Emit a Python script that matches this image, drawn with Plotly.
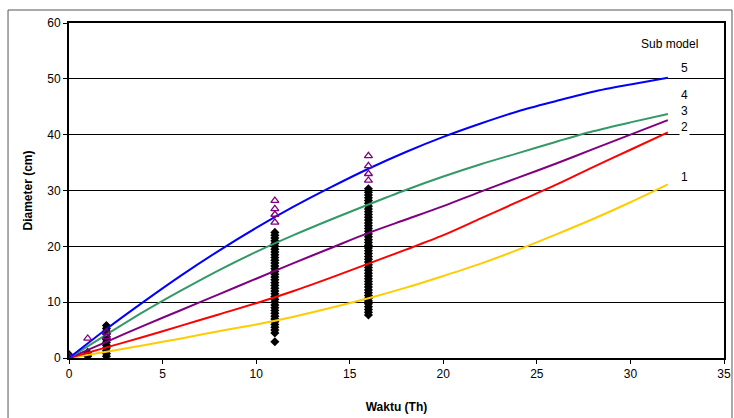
import plotly.graph_objects as go

# ---- data ----
x_curve = [0, 2, 4, 6, 8, 10, 12, 14, 16, 18, 20, 22, 24, 26, 28, 30, 32]
sub1 = [0, 1.1, 2.3, 3.5, 4.8, 6.0, 7.4, 9.0, 10.7, 12.6, 14.7, 16.9, 19.4, 22.1, 24.9, 27.9, 31.1]
sub2 = [0, 1.9, 3.8, 5.8, 7.8, 9.8, 12.0, 14.4, 16.9, 19.4, 22.0, 25.0, 28.0, 31.0, 34.2, 37.3, 40.4]
sub3 = [0, 2.9, 5.8, 8.6, 11.4, 14.2, 17.0, 19.7, 22.4, 24.8, 27.2, 29.8, 32.3, 34.8, 37.4, 40.0, 42.6]
sub4 = [0, 4.2, 8.3, 12.1, 15.7, 19.0, 22.0, 24.8, 27.5, 30.1, 32.5, 34.7, 36.7, 38.7, 40.6, 42.2, 43.7]
sub5 = [0, 5.2, 10.1, 14.8, 19.2, 23.3, 27.1, 30.6, 33.9, 36.9, 39.6, 42.0, 44.2, 46.0, 47.7, 49.0, 50.2]

obs_age_0 = [0, 0]
obs_d_0 = [0.2, 0.6]
obs_age_1 = [1, 1, 1]
obs_d_1 = [0.3, 0.6, 1.0]
obs_age_2 = [2] * 12
obs_d_2 = [0.3, 0.8, 1.3, 1.8, 2.3, 2.8, 3.3, 3.8, 4.3, 4.8, 5.3, 5.8]
obs_d_11 = [2.9, 4.5, 5.0, 5.5, 6.0, 6.5, 7.0, 7.5, 8.0, 8.5, 9.0, 9.5, 10.0, 10.5, 11.0,
            11.5, 12.0, 12.5, 13.0, 13.5, 14.0, 14.5, 15.0, 15.5, 16.0, 16.5, 17.0, 17.5,
            18.0, 18.5, 19.0, 19.5, 20.0, 20.5, 21.0, 21.5, 22.0, 22.5]
obs_age_11 = [11] * len(obs_d_11)
obs_d_16 = [7.7, 8.2, 8.7, 9.2, 9.7, 10.2, 10.7, 11.2, 11.7, 12.2, 12.7, 13.2, 13.7, 14.2,
            14.7, 15.2, 15.7, 16.2, 16.7, 17.2, 17.7, 18.2, 18.7, 19.2, 19.7, 20.2, 20.7,
            21.2, 21.7, 22.2, 22.7, 23.2, 23.7, 24.2, 24.7, 25.2, 25.7, 26.2, 26.7, 27.2,
            27.7, 28.2, 28.7, 29.2, 29.7, 30.3]
obs_age_16 = [16] * len(obs_d_16)

tri_age = [0, 1, 2, 2, 11, 11, 11, 11, 16, 16, 16, 16]
tri_d = [0.3, 3.5, 3.8, 4.6, 24.3, 25.7, 26.7, 28.2, 31.8, 33.0, 34.4, 36.2]

x_ticks = [0, 5, 10, 15, 20, 25, 30, 35]
y_ticks = [0, 10, 20, 30, 40, 50, 60]
label_names = ["1", "2", "3", "4", "5"]
label_y = [32.4, 41.3, 44.3, 47.1, 51.9]

series = [sub1, sub2, sub3, sub4, sub5]
colors = ["#FFCC00", "#FF0000", "#800080", "#339966", "#0000FF"]

FONT = "Liberation Sans, Arial"

fig = go.Figure()

diam_x = obs_age_0 + obs_age_1 + obs_age_2 + obs_age_11 + obs_age_16
diam_y = obs_d_0 + obs_d_1 + obs_d_2 + obs_d_11 + obs_d_16
fig.add_trace(go.Scatter(x=diam_x, y=diam_y, mode="markers",
                         marker=dict(symbol="diamond", size=7, color="black"),
                         showlegend=False, hoverinfo="skip"))

for ys, c in zip(series, colors):
    fig.add_trace(go.Scatter(x=x_curve, y=ys, mode="lines",
                             line=dict(color=c, width=2, shape="spline", smoothing=0.8),
                             showlegend=False))

fig.add_trace(go.Scatter(x=tri_age, y=tri_d, mode="markers",
                         marker=dict(symbol="triangle-up-open", size=7, color="#800080",
                                     line=dict(width=1.3)),
                         showlegend=False))

annots = [dict(x=32.1, y=56.2, xref="x", yref="y", text="Sub model", showarrow=False,
               xanchor="center", yanchor="middle",
               font=dict(family=FONT, size=12, color="black"))]
for t, yy in zip(label_names, label_y):
    annots.append(dict(x=32.9, y=yy, xref="x", yref="y", text=t, showarrow=False,
                       xanchor="center", yanchor="middle", bgcolor="white",
                       font=dict(family=FONT, size=12, color="black")))

fig.update_layout(
    width=734, height=418,
    margin=dict(l=69, r=10, t=23, b=60),
    paper_bgcolor="white", plot_bgcolor="white",
    font=dict(family=FONT, size=12, color="black"),
    annotations=annots,
    shapes=[dict(type="rect", xref="paper", yref="paper",
                 x0=-0.0931, x1=1.0122, y0=-0.19, y1=1.0388,
                 line=dict(color="#555555", width=1), layer="below")],
    xaxis=dict(range=[0, 35], tickvals=x_ticks, ticks="outside", ticklen=4,
               tickcolor="black", showgrid=False, zeroline=False, automargin=False,
               showline=True, linecolor="black", linewidth=2, mirror=True,
               title=dict(text="<b>Waktu (Th)</b>", standoff=22,
                          font=dict(size=12))),
    yaxis=dict(range=[0, 60], tickvals=y_ticks, ticks="outside", ticklen=4,
               tickcolor="black", showgrid=True, gridcolor="black", gridwidth=1,
               zeroline=False, showline=True, linecolor="black", linewidth=2,
               mirror=True, automargin=False,
               title=dict(text="<b>Diameter (cm)</b>", standoff=12,
                          font=dict(size=12))),
)

fig.write_html("out.html",
               config={"displayModeBar": False},
               post_script="document.body.style.margin='0px';"
                           "document.body.style.overflow='hidden';")
